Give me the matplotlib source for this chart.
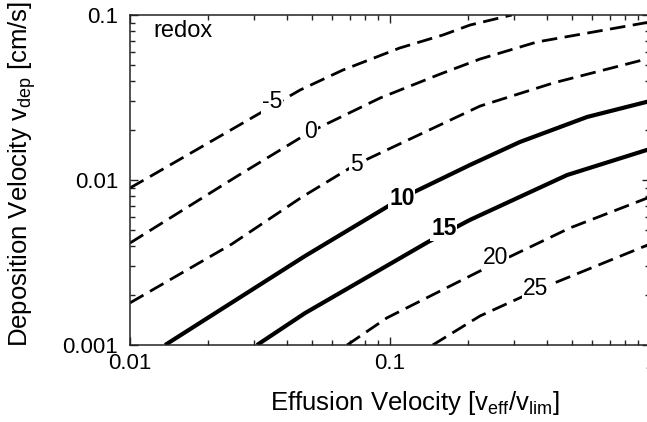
import matplotlib
matplotlib.use('Agg')
import matplotlib.pyplot as plt
import matplotlib.ticker as tkr

plt.rcParams['font.family'] = ['Liberation Sans', 'DejaVu Sans']
plt.rcParams['mathtext.fontset'] = 'custom'
plt.rcParams['mathtext.rm'] = 'Liberation Sans'
plt.rcParams['mathtext.it'] = 'Liberation Sans'

# contour levels (x = v_eff/v_lim, y = v_dep [cm/s])
levels = ['-5', '0', '5', '10', '15', '20', '25']

x_m5 = [0.01, 0.0122, 0.0451, 0.0659, 0.109, 0.160, 0.203, 0.294]
y_m5 = [0.00895, 0.0107, 0.0351, 0.0464, 0.0631, 0.0757, 0.0869, 0.1]

x_0 = [0.01, 0.0255, 0.0492, 0.0916, 0.1556, 0.222, 0.367, 1.0]
y_0 = [0.00415, 0.01042, 0.01954, 0.0314, 0.0438, 0.0541, 0.0686, 0.0907]

x_5 = [0.01, 0.0247, 0.0459, 0.0733, 0.222, 0.424, 1.0]
y_5 = [0.0018, 0.00410, 0.00789, 0.01233, 0.02806, 0.0387, 0.0548]

x_10 = [0.01365, 0.0471, 0.111, 0.203, 0.316, 0.573, 1.0]
y_10 = [0.001, 0.00346, 0.00778, 0.01233, 0.0170, 0.0241, 0.0301]

x_15 = [0.0308, 0.0471, 0.140, 0.203, 0.480, 1.0]
y_15 = [0.001, 0.00156, 0.00421, 0.00573, 0.01072, 0.01542]

x_20 = [0.0684, 0.0973, 0.222, 0.492, 1.0]
y_20 = [0.001, 0.00146, 0.00281, 0.00512, 0.00789]

x_25 = [0.146, 0.222, 0.367, 1.0]
y_25 = [0.001, 0.0015, 0.00215, 0.00409]

# where the inline labels sit
label_x = [0.0351, 0.0496, 0.0740, 0.111, 0.161, 0.255, 0.363]
label_y = [0.0299, 0.0198, 0.01233, 0.00773, 0.00508, 0.00341, 0.00220]
bold_levels = ['10', '15']

xticks = [0.01, 0.1, 1]
xticklabels = ['0.01', '0.1', '1']
yticks = [0.001, 0.01, 0.1]
yticklabels = ['0.001', '0.01', '0.1']

curves_x = [x_m5, x_0, x_5, x_10, x_15, x_20, x_25]
curves_y = [y_m5, y_0, y_5, y_10, y_15, y_20, y_25]

fig = plt.figure(figsize=(6.47, 4.22), dpi=100)
ax = fig.add_axes([130 / 647, 77 / 422, 520 / 647, 330 / 422])

for lev, xs, ys in zip(levels, curves_x, curves_y):
    if lev in bold_levels:
        ax.plot(xs, ys, color='black', lw=3.0, solid_capstyle='butt',
                solid_joinstyle='round', zorder=2)
    else:
        ax.plot(xs, ys, color='black', lw=2.0, dashes=(5.6, 2.7), zorder=2)

for lev, lx, ly in zip(levels, label_x, label_y):
    ax.text(lx, ly, lev, ha='center', va='center', fontsize=16.5,
            fontweight='bold' if lev in bold_levels else 'normal',
            bbox=dict(fc='white', ec='none', pad=0.5), zorder=3)

ax.set_xscale('log')
ax.set_yscale('log')
ax.set_xlim(0.01, 1)
ax.set_ylim(0.001, 0.1)

ax.xaxis.set_major_locator(tkr.FixedLocator(xticks))
ax.xaxis.set_major_formatter(tkr.FixedFormatter(xticklabels))
ax.yaxis.set_major_locator(tkr.FixedLocator(yticks))
ax.yaxis.set_major_formatter(tkr.FixedFormatter(yticklabels))
ax.xaxis.set_minor_formatter(tkr.NullFormatter())
ax.yaxis.set_minor_formatter(tkr.NullFormatter())

ax.tick_params(which='both', direction='in', top=True, right=True,
               color='#222222', width=1.0, labelsize=16)
ax.tick_params(which='major', length=5.5)
ax.tick_params(which='minor', length=3.5)
ax.tick_params(axis='x', pad=6)
ax.tick_params(axis='y', pad=8.5)
for sp in ax.spines.values():
    sp.set_linewidth(1.1)
    sp.set_color('#222222')

ax.text(0.044, 0.933, 'redox', transform=ax.transAxes, fontsize=17,
        ha='left', va='baseline')

ax.set_xlabel(r'Effusion Velocity [$\mathregular{v_{eff}/v_{lim}}$]', fontsize=18.5)
ax.set_ylabel(r'Deposition Velocity $\mathregular{v_{dep}}$ [cm/s]', fontsize=18.5)
ax.xaxis.set_label_coords(0.548, -0.133)
ax.xaxis.label.set_va('top')
ax.yaxis.set_label_coords(-0.177, 0.519)

fig.savefig('out.png', dpi=100)
